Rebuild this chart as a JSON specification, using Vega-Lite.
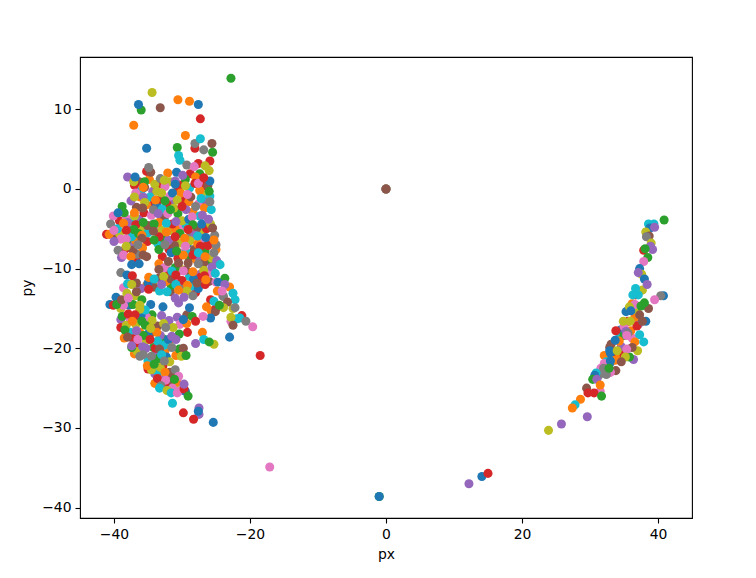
{"$schema":"https://vega.github.io/schema/vega-lite/v6.json","width":612,"height":461,"autosize":"none","padding":{"left":80,"top":57,"right":64,"bottom":60},"background":"white","config":{"view":{"stroke":"black","strokeWidth":1.1},"font":"DejaVu Sans"},"data":{"values":[
{"px":-36,"py":-0.2,"c":9},{"px":-34.3,"py":-0.3,"c":4},{"px":-32.9,"py":0.8,"c":1},{"px":-30.6,"py":-0.1,"c":3},{"px":-28.9,"py":0.1,"c":9},{"px":-27.1,"py":-0.6,"c":8},{"px":-36.7,"py":-2.3,"c":5},{"px":-34.2,"py":-1.9,"c":3},{"px":-33,"py":-3.7,"c":8},{"px":-31.4,"py":-1.6,"c":4},{"px":-29.7,"py":-1.5,"c":3},{"px":-28.4,"py":-2.9,"c":1},{"px":-26.8,"py":-1.6,"c":5},{"px":-39.2,"py":-4,"c":3},{"px":-37.6,"py":-4,"c":9},{"px":-35.8,"py":-5,"c":8},{"px":-33.9,"py":-5,"c":6},{"px":-31.7,"py":-5.2,"c":8},{"px":-30.2,"py":-4.8,"c":6},{"px":-28.7,"py":-5.7,"c":7},{"px":-26.9,"py":-5.2,"c":8},{"px":-39.8,"py":-6,"c":5},{"px":-37.9,"py":-6.9,"c":2},{"px":-37,"py":-7,"c":4},{"px":-35.1,"py":-6.6,"c":3},{"px":-33.6,"py":-6.8,"c":9},{"px":-31.5,"py":-6.8,"c":6},{"px":-29.2,"py":-6.9,"c":0},{"px":-26.5,"py":-6.8,"c":5},{"px":-38.9,"py":-8.6,"c":4},{"px":-36.8,"py":-8.9,"c":3},{"px":-32.9,"py":-8.5,"c":3},{"px":-31.9,"py":-7.6,"c":3},{"px":-30.4,"py":-8,"c":6},{"px":-28.9,"py":-8.7,"c":2},{"px":-27.9,"py":-8.9,"c":1},{"px":-26.2,"py":-8.6,"c":4},{"px":-33.4,"py":-9.4,"c":1},{"px":-31.9,"py":-10.3,"c":3},{"px":-30.7,"py":-11.3,"c":6},{"px":-28.9,"py":-11,"c":9},{"px":-26,"py":-11.6,"c":5},{"px":-25,"py":-11.7,"c":6},{"px":-34,"py":-12.3,"c":8},{"px":-31.7,"py":-12.9,"c":5},{"px":-30,"py":-12.6,"c":7},{"px":-28,"py":-13,"c":3},{"px":-38.6,"py":-12.4,"c":6},{"px":-38,"py":-11.9,"c":9},{"px":-37.7,"py":-16.2,"c":6},{"px":-39,"py":-16.4,"c":4},{"px":-36.2,"py":-16.2,"c":5},{"px":-37.6,"py":-18,"c":9},{"px":-35.3,"py":-19,"c":8},{"px":-34.4,"py":-18,"c":5},{"px":-32.8,"py":-18.8,"c":2},{"px":-37,"py":-20.7,"c":1},{"px":-35,"py":-22.6,"c":3},{"px":-34,"py":-23.2,"c":4},{"px":-32.4,"py":-23.7,"c":4},{"px":-31.4,"py":-23.2,"c":3},{"px":-30.9,"py":-20.9,"c":1},{"px":-30.4,"py":-20.1,"c":2},{"px":35.6,"py":-16.6,"c":3},{"px":37.1,"py":-17,"c":4},{"px":36.2,"py":-18.7,"c":6},{"px":34.5,"py":-17.7,"c":0},{"px":37,"py":-20.3,"c":8},{"px":32.1,"py":-20.9,"c":1},{"px":32.4,"py":-21.7,"c":9},{"px":36.4,"py":-21.4,"c":4},{"px":33.5,"py":-20.6,"c":3},
{"px":-36.3,"py":0.9,"c":5},{"px":-34.8,"py":1.2,"c":1},{"px":-33.7,"py":0.4,"c":3},{"px":-31.8,"py":0.9,"c":8},{"px":-30.3,"py":0.5,"c":3},{"px":-28.8,"py":1.9,"c":3},{"px":-27.4,"py":1.9,"c":2},{"px":-33.7,"py":-2,"c":0},{"px":-32.2,"py":-1.9,"c":3},{"px":-30.6,"py":-3.1,"c":2},{"px":-29,"py":-1.6,"c":1},{"px":-27.6,"py":-1.9,"c":6},{"px":-26.3,"py":-1.5,"c":4},{"px":-35.2,"py":-2,"c":1},{"px":-38.2,"py":-3.7,"c":6},{"px":-36.3,"py":-3.8,"c":4},{"px":-34.4,"py":-4.5,"c":7},{"px":-32.6,"py":-3.6,"c":5},{"px":-31,"py":-5,"c":1},{"px":-29.4,"py":-4.5,"c":9},{"px":-27.8,"py":-4.9,"c":5},{"px":-26.4,"py":-5,"c":3},{"px":-39.2,"py":-5.6,"c":8},{"px":-37.7,"py":-5.2,"c":4},{"px":-36.8,"py":-6.5,"c":1},{"px":-35,"py":-5.5,"c":9},{"px":-33,"py":-5.2,"c":8},{"px":-32.7,"py":-6.2,"c":2},{"px":-30.4,"py":-6.8,"c":8},{"px":-28.1,"py":-5.8,"c":4},{"px":-27,"py":-6.2,"c":6},{"px":-25.7,"py":-6.5,"c":4},{"px":-38.3,"py":-7.5,"c":3},{"px":-36.6,"py":-8.2,"c":7},{"px":-31.1,"py":-7.1,"c":5},{"px":-29.4,"py":-7.9,"c":9},{"px":-28.2,"py":-7.6,"c":5},{"px":-26.6,"py":-7.8,"c":2},{"px":-30.6,"py":-8.7,"c":3},{"px":-27.4,"py":-8.8,"c":4},{"px":-25.7,"py":-9.1,"c":2},{"px":-32.6,"py":-9.9,"c":6},{"px":-30.1,"py":-10.1,"c":8},{"px":-27.3,"py":-10.7,"c":4},{"px":-25.9,"py":-10.6,"c":6},{"px":-31.6,"py":-12.1,"c":2},{"px":-32.3,"py":-11.6,"c":1},{"px":-28.5,"py":-12.2,"c":9},{"px":-27.3,"py":-11.1,"c":3},{"px":-34.2,"py":-12.3,"c":5},{"px":-37.4,"py":-14.5,"c":4},{"px":-39,"py":-15,"c":8},{"px":-37.8,"py":-14.6,"c":0},{"px":-36.2,"py":-18,"c":1},{"px":-35,"py":-18.2,"c":0},{"px":-34.2,"py":-19.9,"c":2},{"px":-34.1,"py":-20.9,"c":4},{"px":-36.8,"py":-19.5,"c":3},{"px":-33.2,"py":-18.4,"c":4},{"px":-32.5,"py":-20.3,"c":1},{"px":-34.4,"py":-15.8,"c":2},{"px":-35.2,"py":-16.1,"c":6},{"px":-33.6,"py":-17.2,"c":5},{"px":-33.5,"py":-23,"c":9},{"px":-32.8,"py":-22.2,"c":3},{"px":-31.7,"py":-24.3,"c":5},{"px":-30.5,"py":-24.7,"c":8},
{"px":-37,"py":0.5,"c":3},{"px":-35.5,"py":0.2,"c":5},{"px":-34,"py":0.6,"c":8},{"px":-32.5,"py":0.3,"c":6},{"px":-31,"py":1,"c":4},{"px":-29.5,"py":1.2,"c":2},{"px":-28,"py":1.5,"c":1},{"px":-26.5,"py":0.4,"c":3},
{"px":-37.5,"py":-1.5,"c":4},{"px":-36.2,"py":-1,"c":1},{"px":-34.7,"py":-1,"c":9},{"px":-33.2,"py":-1.3,"c":3},{"px":-31.8,"py":-0.9,"c":6},{"px":-30.2,"py":-0.5,"c":1},{"px":-28.7,"py":-1,"c":5},{"px":-27.4,"py":-0.2,"c":1},{"px":-25.9,"py":-0.9,"c":9},
{"px":-38.5,"py":-3,"c":2},{"px":-37,"py":-3.4,"c":8},{"px":-35.6,"py":-3,"c":3},{"px":-34.5,"py":-3.3,"c":6},{"px":-32.9,"py":-2.5,"c":9},{"px":-31.2,"py":-2.4,"c":8},{"px":-29.4,"py":-2.6,"c":4},{"px":-28,"py":-2.2,"c":7},{"px":-26.7,"py":-2.4,"c":1},{"px":-25.7,"py":-2.6,"c":9},
{"px":-39.5,"py":-5,"c":9},{"px":-38,"py":-4.2,"c":4},{"px":-36.8,"py":-4.5,"c":3},{"px":-35.1,"py":-4.6,"c":5},{"px":-33.4,"py":-4.2,"c":1},{"px":-31.4,"py":-4.4,"c":3},{"px":-30,"py":-4,"c":8},{"px":-29,"py":-3.8,"c":0},{"px":-27.4,"py":-3.4,"c":9},{"px":-25.8,"py":-4.4,"c":8},
{"px":-39,"py":-6.3,"c":6},{"px":-37.4,"py":-6,"c":9},{"px":-36.4,"py":-5.6,"c":2},{"px":-33.4,"py":-6,"c":3},{"px":-32,"py":-6.4,"c":4},{"px":-30.3,"py":-5.6,"c":2},{"px":-28.8,"py":-6.5,"c":8},{"px":-27.7,"py":-6.9,"c":1},{"px":-26.2,"py":-7.1,"c":3},{"px":-25.2,"py":-5.8,"c":7},
{"px":-39.4,"py":-7.7,"c":7},{"px":-37.2,"py":-7.7,"c":5},{"px":-35.8,"py":-7.4,"c":1},{"px":-33.4,"py":-7.6,"c":2},{"px":-31.6,"py":-8,"c":0},{"px":-29.8,"py":-8.3,"c":1},{"px":-28.4,"py":-8.3,"c":3},{"px":-26.8,"py":-9.3,"c":5},{"px":-25.6,"py":-8.7,"c":8},{"px":-24.9,"py":-9,"c":4},
{"px":-31,"py":-9.9,"c":2},{"px":-29.4,"py":-10.2,"c":5},{"px":-28.3,"py":-11.3,"c":0},{"px":-26.8,"py":-10.2,"c":8},{"px":-25,"py":-7.6,"c":1},{"px":-30,"py":-11.5,"c":3},{"px":-31.6,"py":-11.3,"c":5},{"px":-33.4,"py":-11.2,"c":5},{"px":-29.2,"py":-12.1,"c":1},{"px":-33.3,"py":-12.8,"c":9},
{"px":-36,"py":-15.8,"c":0},{"px":-37.2,"py":-14.5,"c":2},{"px":-38.6,"py":-14.6,"c":6},{"px":-38.8,"py":-16,"c":2},{"px":-36.8,"py":-17,"c":8},{"px":-38.5,"py":-18.7,"c":1},{"px":-37.2,"py":-18.8,"c":3},{"px":-35.7,"py":-18.4,"c":2},{"px":-34.4,"py":-16.5,"c":8},{"px":-33.7,"py":-18,"c":1},{"px":-35.3,"py":-20,"c":4},{"px":-33.9,"py":-20,"c":3},{"px":-32.6,"py":-19.6,"c":9},{"px":-31.3,"py":-18.8,"c":1},{"px":-36.6,"py":-20.4,"c":8},{"px":-33.5,"py":-21.3,"c":2},{"px":-32.3,"py":-21.1,"c":0},{"px":-35,"py":-21.6,"c":9},{"px":-33.2,"py":-22.4,"c":8},{"px":-31.8,"py":-23,"c":5},{"px":-32.6,"py":-24.5,"c":3},{"px":-30.8,"py":-24.2,"c":1},{"px":-31.4,"py":-25,"c":6},{"px":-30.2,"py":-25.3,"c":6},{"px":-29.5,"py":-25.4,"c":0},{"px":-35.2,"py":-12.1,"c":1},{"px":-36,"py":-12.5,"c":4},{"px":-36.9,"py":-13.4,"c":8},{"px":-30.7,"py":-16.1,"c":4},{"px":-29.3,"py":-15.8,"c":5},{"px":-23,"py":-12.3,"c":1},{"px":-24,"py":-13.4,"c":4},{"px":-25.7,"py":-15.3,"c":1},{"px":-25,"py":-15,"c":3},{"px":-22.5,"py":-15,"c":8},{"px":-22.8,"py":-16.6,"c":6},{"px":-21.9,"py":-16.3,"c":9},
{"px":36,"py":-17.8,"c":1},{"px":35,"py":-17.3,"c":6},{"px":36.6,"py":-16.1,"c":1},{"px":36.9,"py":-17.2,"c":3},{"px":37.3,"py":-18.3,"c":9},{"px":36.6,"py":-19.2,"c":1},{"px":36.2,"py":-19.9,"c":5},{"px":35.8,"py":-21.1,"c":2},{"px":34.6,"py":-19.8,"c":4},{"px":34.3,"py":-18.7,"c":9},{"px":33.8,"py":-17.8,"c":3},{"px":33.1,"py":-19.5,"c":5},{"px":34.2,"py":-21.3,"c":1},{"px":35,"py":-20.8,"c":3},{"px":33,"py":-21.8,"c":0},{"px":31.6,"py":-22.5,"c":6},{"px":32.7,"py":-23.1,"c":6},{"px":31.3,"py":-23.4,"c":7},{"px":30.9,"py":-23.7,"c":2},{"px":37.9,"py":-19.2,"c":9},{"px":36.2,"py":-14.4,"c":1},{"px":36.8,"py":-15.2,"c":8},{"px":35.3,"py":-15.4,"c":0},{"px":37,"py":-13,"c":3},
{"px":-1,"py":-38.6,"c":2},{"px":-1,"py":-38.6,"c":0},{"px":12.2,"py":-37,"c":4},{"px":14.1,"py":-36.1,"c":0},{"px":15,"py":-35.7,"c":3},{"px":-17.1,"py":-34.9,"c":6},
{"px":0,"py":0,"c":0},{"px":0,"py":0,"c":1},{"px":0,"py":0,"c":7},{"px":0,"py":0,"c":5},
{"px":-22.8,"py":13.9,"c":2},{"px":-34.4,"py":12.1,"c":8},{"px":-30.6,"py":11.2,"c":1},{"px":-28.9,"py":11,"c":1},{"px":-36,"py":9.9,"c":2},{"px":-36.4,"py":10.6,"c":0},{"px":-27.6,"py":10.6,"c":0},{"px":-33.2,"py":10.2,"c":5},{"px":-37.1,"py":8,"c":1},{"px":-27.3,"py":8.8,"c":3},{"px":-29.5,"py":6.7,"c":1},{"px":-28.1,"py":5.1,"c":3},{"px":-28.1,"py":5.7,"c":7},{"px":-27.3,"py":6.3,"c":9},{"px":-25.6,"py":5.7,"c":5},{"px":-35.2,"py":5.1,"c":0},{"px":-30.7,"py":5.2,"c":2},{"px":-30.5,"py":4.2,"c":9},{"px":-30.3,"py":3.6,"c":9},{"px":-25.5,"py":4.6,"c":2},{"px":-26.8,"py":4.9,"c":7},{"px":-25.9,"py":3.5,"c":3},{"px":-29.3,"py":3,"c":7},{"px":-27.6,"py":3.2,"c":3},{"px":-26.6,"py":2.9,"c":8},
{"px":-35.2,"py":2.2,"c":3},{"px":-34.6,"py":2.1,"c":5},{"px":-34.9,"py":2.7,"c":7},{"px":-38,"py":1.5,"c":4},{"px":-37.1,"py":0.9,"c":8},{"px":-36.9,"py":1.5,"c":0},{"px":-32.1,"py":2,"c":1},{"px":-30.8,"py":2.1,"c":0},{"px":-29.9,"py":1.7,"c":4},{"px":-28.2,"py":2.8,"c":6},{"px":-26,"py":2.3,"c":8},{"px":-26.8,"py":1.2,"c":3},{"px":-35.5,"py":0.9,"c":2},{"px":-35.7,"py":0.2,"c":1},{"px":-36.8,"py":-0.5,"c":6},{"px":-37,"py":-1,"c":8},{"px":-35.7,"py":-1,"c":4},{"px":-33.2,"py":1.3,"c":7},{"px":-32.6,"py":1.1,"c":8},{"px":-33.7,"py":-0.3,"c":8},{"px":-33,"py":-0.5,"c":8},{"px":-35.5,"py":-1.7,"c":8},{"px":-38.8,"py":-2.2,"c":2},{"px":-35.8,"py":-2.4,"c":5},{"px":-33.9,"py":-1.4,"c":1},{"px":-32.5,"py":-1.5,"c":2},{"px":-31,"py":0.6,"c":0},{"px":-31.4,"py":-0.5,"c":0},{"px":-29.5,"py":0.4,"c":8},{"px":-28.1,"py":0.7,"c":3},{"px":-27.6,"py":0.7,"c":6},{"px":-26.2,"py":0.4,"c":5},{"px":-25.9,"py":1,"c":0},{"px":-26.8,"py":1.4,"c":3},{"px":-26,"py":-0.3,"c":2},{"px":-30.7,"py":-1.4,"c":8},{"px":-30,"py":-2.2,"c":3},{"px":-29.2,"py":-0.7,"c":6},{"px":-27.2,"py":-1.2,"c":9},{"px":-25.9,"py":-1.6,"c":7},
{"px":-40.1,"py":-3.4,"c":6},{"px":-39.4,"py":-3,"c":0},{"px":-37,"py":-3,"c":1},{"px":-40.5,"py":-4.4,"c":7},{"px":-41.1,"py":-5.7,"c":3},{"px":-40.7,"py":-5.7,"c":1},{"px":-40,"py":-5.2,"c":6},{"px":-38.6,"py":-4.3,"c":1},{"px":-37.1,"py":-5.1,"c":2},{"px":-35.7,"py":-4.2,"c":2},{"px":-38.2,"py":-5.2,"c":3},{"px":-34.2,"py":-2.6,"c":7},{"px":-33.5,"py":-3.1,"c":4},{"px":-32.1,"py":-3.1,"c":6},{"px":-31.7,"py":-2.6,"c":2},{"px":-34.1,"py":-4.4,"c":2},{"px":-32.3,"py":-4.3,"c":9},{"px":-30.9,"py":-4.1,"c":4},{"px":-28.5,"py":-3.5,"c":6},{"px":-27,"py":-3.3,"c":4},{"px":-27.1,"py":-4.4,"c":0},{"px":-26.1,"py":-3.8,"c":4},{"px":-28.4,"py":-4.5,"c":2},{"px":-25.5,"py":-4.9,"c":5},{"px":-32.3,"py":-5.4,"c":1},{"px":-34.2,"py":-5.3,"c":5},{"px":-29.1,"py":-5.1,"c":3},{"px":-31,"py":-6,"c":3},{"px":-29.6,"py":-6.2,"c":1},{"px":-27.7,"py":-5.9,"c":9},{"px":-26.5,"py":-6.1,"c":0},{"px":-25,"py":-7,"c":7},{"px":-25.3,"py":-6.4,"c":1},{"px":-34.1,"py":-6.4,"c":2},{"px":-32.5,"py":-7,"c":7},{"px":-29.5,"py":-7.2,"c":6},{"px":-27.3,"py":-7.2,"c":3},{"px":-30.8,"py":-7.8,"c":2},{"px":-35.9,"py":-5.8,"c":1},{"px":-35.9,"py":-6.2,"c":5},{"px":-36.5,"py":-7,"c":7},{"px":-40,"py":-6.6,"c":4},{"px":-38.2,"py":-6.3,"c":6},{"px":-38.6,"py":-8.3,"c":6},{"px":-38.2,"py":-7.2,"c":8},{"px":-37.5,"py":-8.5,"c":1},{"px":-37.4,"py":-9.5,"c":0},{"px":-36.3,"py":-9.4,"c":0},{"px":-39,"py":-10.5,"c":7},{"px":-38.1,"py":-10.8,"c":0},{"px":-37.3,"py":-10.9,"c":3},{"px":-35.7,"py":-8.3,"c":5},{"px":-35.2,"py":-8.5,"c":5},{"px":-27.6,"py":-8,"c":9},{"px":-26.6,"py":-8.5,"c":1},{"px":-25.3,"py":-8,"c":7},{"px":-32,"py":-9.1,"c":5},{"px":-30.5,"py":-9.3,"c":5},{"px":-29.1,"py":-9.3,"c":5},{"px":-27.6,"py":-9.4,"c":7},{"px":-24.4,"py":-9.5,"c":9},{"px":-25.6,"py":-9.8,"c":4},{"px":-33.4,"py":-10.1,"c":5},{"px":-29.8,"py":-10.3,"c":6},{"px":-28.4,"py":-10.4,"c":1},{"px":-31.5,"py":-10.3,"c":9},{"px":-30.9,"py":-10.8,"c":3},{"px":-32.7,"py":-11,"c":8},{"px":-25.1,"py":-10.6,"c":9},{"px":-26.7,"py":-10.9,"c":3},{"px":-23.7,"py":-11.2,"c":2},{"px":-24.7,"py":-11.7,"c":0},{"px":-35,"py":-11.8,"c":0},{"px":-34.9,"py":-11.1,"c":1},{"px":-34.1,"py":-11.3,"c":9},{"px":-34.9,"py":-12.6,"c":3},{"px":-33,"py":-12,"c":4},{"px":-30.9,"py":-12,"c":9},{"px":-32.2,"py":-12.9,"c":9},{"px":-27.6,"py":-12.5,"c":0},{"px":-26.6,"py":-12,"c":3},{"px":-27.8,"py":-11.8,"c":5},{"px":-26.5,"py":-11.4,"c":1},{"px":-29.3,"py":-12.8,"c":8},{"px":-30.5,"py":-12.7,"c":1},{"px":-23.7,"py":-12,"c":4},{"px":-24.8,"py":-12.8,"c":1},{"px":-23.9,"py":-13.5,"c":7},{"px":-24.1,"py":-12.8,"c":6},{"px":-22.2,"py":-13.9,"c":9},{"px":-22.5,"py":-13.1,"c":9},{"px":-25.8,"py":-13.9,"c":3},{"px":-25.1,"py":-15.4,"c":5},{"px":-23.3,"py":-14.2,"c":5},{"px":-25.3,"py":-14.1,"c":9},{"px":-23.9,"py":-14.9,"c":8},{"px":-24.5,"py":-14.6,"c":2},{"px":-26.4,"py":-14.8,"c":1},{"px":-22.2,"py":-14.9,"c":7},{"px":-25.8,"py":-16.2,"c":0},{"px":-26.9,"py":-16,"c":6},{"px":-21.2,"py":-15.9,"c":3},{"px":-21.5,"py":-16.2,"c":9},{"px":-20.6,"py":-16.6,"c":7},{"px":-19.6,"py":-17.3,"c":6},{"px":-22.8,"py":-16.1,"c":8},{"px":-22.5,"py":-17.1,"c":5},{"px":-23,"py":-18.6,"c":0},{"px":-27,"py":-18,"c":1},{"px":-26.8,"py":-18.9,"c":9},{"px":-25.3,"py":-19.5,"c":8},{"px":-26,"py":-19.2,"c":2},{"px":-28,"py":-19.4,"c":4},{"px":-18.5,"py":-20.9,"c":3},{"px":-29.8,"py":-20,"c":5},{"px":-30.1,"py":-21,"c":8},{"px":-29.4,"py":-20.9,"c":2},{"px":-32.8,"py":-14.8,"c":0},{"px":-28.9,"py":-14.9,"c":0},{"px":-30.5,"py":-14.3,"c":4},{"px":-31,"py":-13.7,"c":4},{"px":-29.7,"py":-13.6,"c":4},{"px":-28.4,"py":-13.4,"c":7},{"px":-28.5,"py":-16,"c":2},{"px":-28,"py":-16.6,"c":3},{"px":-30.3,"py":-17,"c":6},{"px":-29.3,"py":-16.9,"c":1},{"px":-29.8,"py":-16.4,"c":0},{"px":-29.2,"py":-18,"c":3},{"px":-30.4,"py":-18.2,"c":2},{"px":-33,"py":-15.9,"c":4},{"px":-31.9,"py":-16.5,"c":4},{"px":-32.7,"py":-16.9,"c":8},{"px":-31.3,"py":-17.4,"c":8},{"px":-32.4,"py":-17.4,"c":7},{"px":-34.6,"py":-14.5,"c":0},{"px":-40.6,"py":-14.5,"c":0},{"px":-39.7,"py":-13.6,"c":0},{"px":-40.1,"py":-14.6,"c":3},{"px":-39.6,"py":-14.5,"c":2},{"px":-38.9,"py":-13.9,"c":5},{"px":-38.1,"py":-13.1,"c":8},{"px":-37.9,"py":-13.7,"c":6},{"px":-36.7,"py":-11.8,"c":5},{"px":-37.4,"py":-12,"c":8},{"px":-36.7,"py":-12.9,"c":5},{"px":-35.9,"py":-13.9,"c":2},{"px":-35.4,"py":-15.2,"c":9},{"px":-36.2,"py":-14.6,"c":8},{"px":-36.2,"py":-15.1,"c":8},{"px":-37.9,"py":-15.7,"c":3},{"px":-36.9,"py":-15.8,"c":3},{"px":-35.9,"py":-16.6,"c":2},{"px":-35.4,"py":-17.1,"c":2},{"px":-34.6,"py":-17.5,"c":8},{"px":-39,"py":-17.4,"c":3},{"px":-38.2,"py":-17.1,"c":8},{"px":-37.3,"py":-16.6,"c":1},{"px":-38.4,"py":-17.7,"c":2},{"px":-36.7,"py":-17.8,"c":4},{"px":-38,"py":-18.6,"c":5},{"px":-36.5,"py":-18.9,"c":6},{"px":-32,"py":-18.9,"c":0},{"px":-31.5,"py":-18.5,"c":4},{"px":-30.9,"py":-18.9,"c":4},{"px":-33.6,"py":-19.1,"c":9},{"px":-34.7,"py":-18.9,"c":3},{"px":-37.4,"py":-19.9,"c":2},{"px":-37.4,"py":-19.7,"c":4},{"px":-35.8,"py":-19.8,"c":4},{"px":-33.3,"py":-20.1,"c":5},{"px":-31.5,"py":-19.9,"c":7},{"px":-36.2,"py":-21,"c":7},{"px":-35.7,"py":-20.8,"c":7},{"px":-34.5,"py":-21,"c":7},{"px":-33,"py":-20.8,"c":9},{"px":-31.8,"py":-21.7,"c":8},{"px":-32.6,"py":-21.6,"c":7},{"px":-34.5,"py":-22.7,"c":8},{"px":-35.1,"py":-22.2,"c":1},{"px":-34.1,"py":-22,"c":2},{"px":-31,"py":-22.7,"c":7},{"px":-30.5,"py":-23.5,"c":6},{"px":-32.5,"py":-23,"c":1},{"px":-34,"py":-24.4,"c":1},{"px":-33.6,"py":-23.8,"c":3},{"px":-32.4,"py":-24,"c":6},{"px":-31.1,"py":-23.9,"c":2},{"px":-33.1,"py":-24.7,"c":7},{"px":-33.3,"py":-25,"c":9},{"px":-32.2,"py":-25.3,"c":8},{"px":-31.6,"py":-25.6,"c":9},{"px":-30.7,"py":-25.6,"c":6},{"px":-29.7,"py":-25.1,"c":3},{"px":-29.7,"py":-24.5,"c":4},{"px":-29.1,"py":-26,"c":2},{"px":-31.4,"py":-26.9,"c":9},{"px":-29.8,"py":-28.1,"c":3},{"px":-27.5,"py":-27.5,"c":4},{"px":-27.5,"py":-28.3,"c":4},{"px":-27.6,"py":-27.9,"c":0},{"px":-28.3,"py":-28.9,"c":3},{"px":-25.4,"py":-29.3,"c":0},
{"px":38.6,"py":-4.4,"c":9},{"px":39.4,"py":-4.4,"c":9},{"px":38.8,"py":-4.9,"c":0},{"px":39.5,"py":-4.8,"c":4},{"px":40.9,"py":-3.9,"c":2},{"px":38.2,"py":-5.4,"c":8},{"px":38.7,"py":-5.9,"c":5},{"px":38.3,"py":-6,"c":7},{"px":39,"py":-6.8,"c":8},{"px":38.9,"py":-7.2,"c":4},{"px":39.2,"py":-7.6,"c":4},{"px":37.9,"py":-7.7,"c":3},{"px":38.5,"py":-8.6,"c":2},{"px":38.1,"py":-7.5,"c":2},{"px":37.9,"py":-9.1,"c":6},{"px":37.3,"py":-10,"c":0},{"px":37.6,"py":-10.7,"c":8},{"px":37.1,"py":-10.5,"c":4},{"px":38,"py":-11.3,"c":0},{"px":37.7,"py":-12.7,"c":8},{"px":38.4,"py":-12,"c":4},{"px":36.7,"py":-13.3,"c":3},{"px":36.7,"py":-12.5,"c":9},{"px":36.3,"py":-13.3,"c":9},{"px":37.1,"py":-13.3,"c":9},{"px":40.8,"py":-13.4,"c":0},{"px":40.4,"py":-13.4,"c":7},{"px":39.5,"py":-13.9,"c":6},{"px":36.6,"py":-14.5,"c":6},{"px":38.6,"py":-15,"c":5},{"px":38,"py":-14.3,"c":2},{"px":37.5,"py":-14.7,"c":2},{"px":35.8,"py":-14.8,"c":8},{"px":36,"py":-15.3,"c":0},{"px":37.3,"py":-15.8,"c":5},{"px":34.9,"py":-16.6,"c":8},{"px":35.9,"py":-16.6,"c":8},{"px":38.2,"py":-16.6,"c":0},{"px":37.7,"py":-16.6,"c":5},{"px":35,"py":-18.4,"c":2},{"px":35.3,"py":-17.9,"c":4},{"px":35.6,"py":-18.1,"c":7},{"px":35.4,"py":-18.4,"c":6},{"px":34.3,"py":-19.1,"c":1},{"px":33.7,"py":-19,"c":0},{"px":32.9,"py":-19.9,"c":5},{"px":33,"py":-20.6,"c":0},{"px":32.9,"py":-20.3,"c":0},{"px":34,"py":-20.3,"c":8},{"px":35.4,"py":-20.1,"c":6},{"px":35.2,"py":-21.1,"c":8},{"px":33.7,"py":-21.5,"c":1},{"px":34.6,"py":-21.7,"c":5},{"px":32.1,"py":-21.9,"c":6},{"px":33,"py":-21.6,"c":0},{"px":33.8,"py":-22.8,"c":5},{"px":32,"py":-22.5,"c":7},{"px":33,"py":-23,"c":6},{"px":32.4,"py":-23.3,"c":7},{"px":32.8,"py":-22.5,"c":2},{"px":30.9,"py":-23.1,"c":9},{"px":30.7,"py":-23.4,"c":0},{"px":30.4,"py":-23.9,"c":2},{"px":31,"py":-23.9,"c":4},{"px":31.5,"py":-25.4,"c":6},{"px":31.5,"py":-24.6,"c":1},{"px":29.5,"py":-25,"c":5},{"px":29.7,"py":-25.6,"c":3},{"px":30.6,"py":-25.6,"c":3},{"px":31.7,"py":-26,"c":2},{"px":28.6,"py":-26.4,"c":1},{"px":27.8,"py":-27.1,"c":9},{"px":27.4,"py":-27.5,"c":1},{"px":29.6,"py":-28.6,"c":4},{"px":25.8,"py":-29.5,"c":4},{"px":23.9,"py":-30.3,"c":8}
]},"mark":{"type":"circle","size":82,"opacity":1},"encoding":{"x":{"field":"px","type":"quantitative","title":"px","scale":{"domain":[-45,45],"nice":false,"zero":false},"axis":{"grid":false,"values":[-40,-20,0,20,40],"tickSize":5,"tickWidth":1.1,"tickColor":"black","domain":false,"labelColor":"black","labelFontSize":13.9,"labelFont":"DejaVu Sans","labelPadding":4,"titleColor":"black","titleFontSize":13.9,"titleFont":"DejaVu Sans","titleFontWeight":"normal","titlePadding":7}},"y":{"field":"py","type":"quantitative","title":"py","scale":{"domain":[-41.3,16.56],"nice":false,"zero":false},"axis":{"grid":false,"values":[-40,-30,-20,-10,0,10],"tickSize":5,"tickWidth":1.1,"tickColor":"black","domain":false,"labelColor":"black","labelFontSize":13.9,"labelFont":"DejaVu Sans","labelPadding":4,"titleColor":"black","titleFontSize":13.9,"titleFont":"DejaVu Sans","titleFontWeight":"normal","titlePadding":7}},"color":{"field":"c","type":"nominal","legend":null,"scale":{"domain":[0,1,2,3,4,5,6,7,8,9],"range":["#1f77b4","#ff7f0e","#2ca02c","#d62728","#9467bd","#8c564b","#e377c2","#7f7f7f","#bcbd22","#17becf"]}}}}
